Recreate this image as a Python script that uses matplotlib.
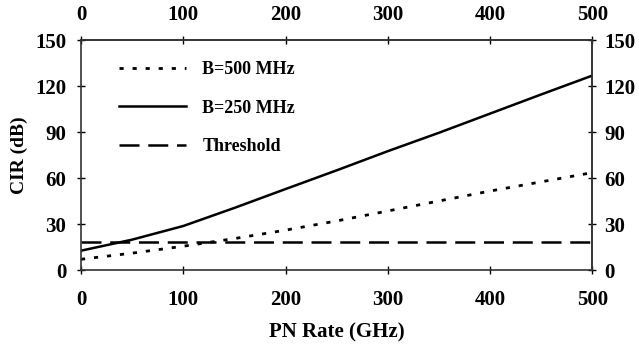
import matplotlib
matplotlib.use("Agg")
import matplotlib.pyplot as plt

pn_rate = [0, 50, 100, 150, 200, 250, 300, 350, 400, 450, 500]
cir_500 = [7.0, 11.0, 15.5, 20.5, 26.0, 32.0, 38.5, 45.0, 51.5, 57.5, 63.5]
cir_250 = [12.6, 19.8, 28.7, 40.5, 52.8, 65.0, 77.5, 89.5, 102.0, 114.5, 126.8]
threshold = [18.3] * len(pn_rate)
xticks = [0, 100, 200, 300, 400, 500]
yticks = [0, 30, 60, 90, 120, 150]

plt.rcParams['font.family'] = ['Liberation Serif', 'DejaVu Serif']
plt.rcParams['font.weight'] = 'bold'

fig = plt.figure(figsize=(6.39, 3.47), dpi=100)
ax = fig.add_axes([0.1268, 0.2219, 0.8002, 0.6628])

l1, = ax.plot(pn_rate, cir_500, color='black', lw=2.0, dashes=(1.5, 3.2), label='B=500 MHz')
l2, = ax.plot(pn_rate, cir_250, color='black', lw=1.8, label='B=250 MHz')
l3, = ax.plot(pn_rate, threshold, color='black', lw=1.8, dashes=(8, 3.5), label='Threshold')

ax.set_xlim(0, 500)
ax.set_ylim(0, 150)
ax.set_xticks(xticks)
ax.set_yticks(yticks)
ax.tick_params(axis='x', direction='inout', length=6, width=1, labelsize=15, pad=11.5)
ax.tick_params(axis='y', direction='inout', length=6, width=1, labelsize=15, pad=7.5)

top = ax.secondary_xaxis('top')
top.set_xticks(xticks)
top.tick_params(axis='x', direction='inout', length=6, width=1, labelsize=15, pad=7.5)
right = ax.secondary_yaxis('right')
right.set_yticks(yticks)
right.tick_params(axis='y', direction='inout', length=6, width=1, labelsize=15, pad=5.5)

for a in (ax, top, right):
    for side in a.spines:
        a.spines[side].set_linewidth(1.2)
        a.spines[side].set_color('#333333')

ax.set_xlabel('PN Rate (GHz)', fontsize=15, fontweight='bold', labelpad=9)
ax.set_ylabel('CIR (dB)', fontsize=14, fontweight='bold', labelpad=5)

leg = ax.legend(handles=[l1, l2, l3], loc='upper left', bbox_to_anchor=(0.043, 0.98),
                frameon=False, handlelength=3.7, handletextpad=0.9, labelspacing=1.2,
                prop={'family': 'Liberation Serif', 'weight': 'bold', 'size': 13})

fig.savefig('out.png', dpi=100)
